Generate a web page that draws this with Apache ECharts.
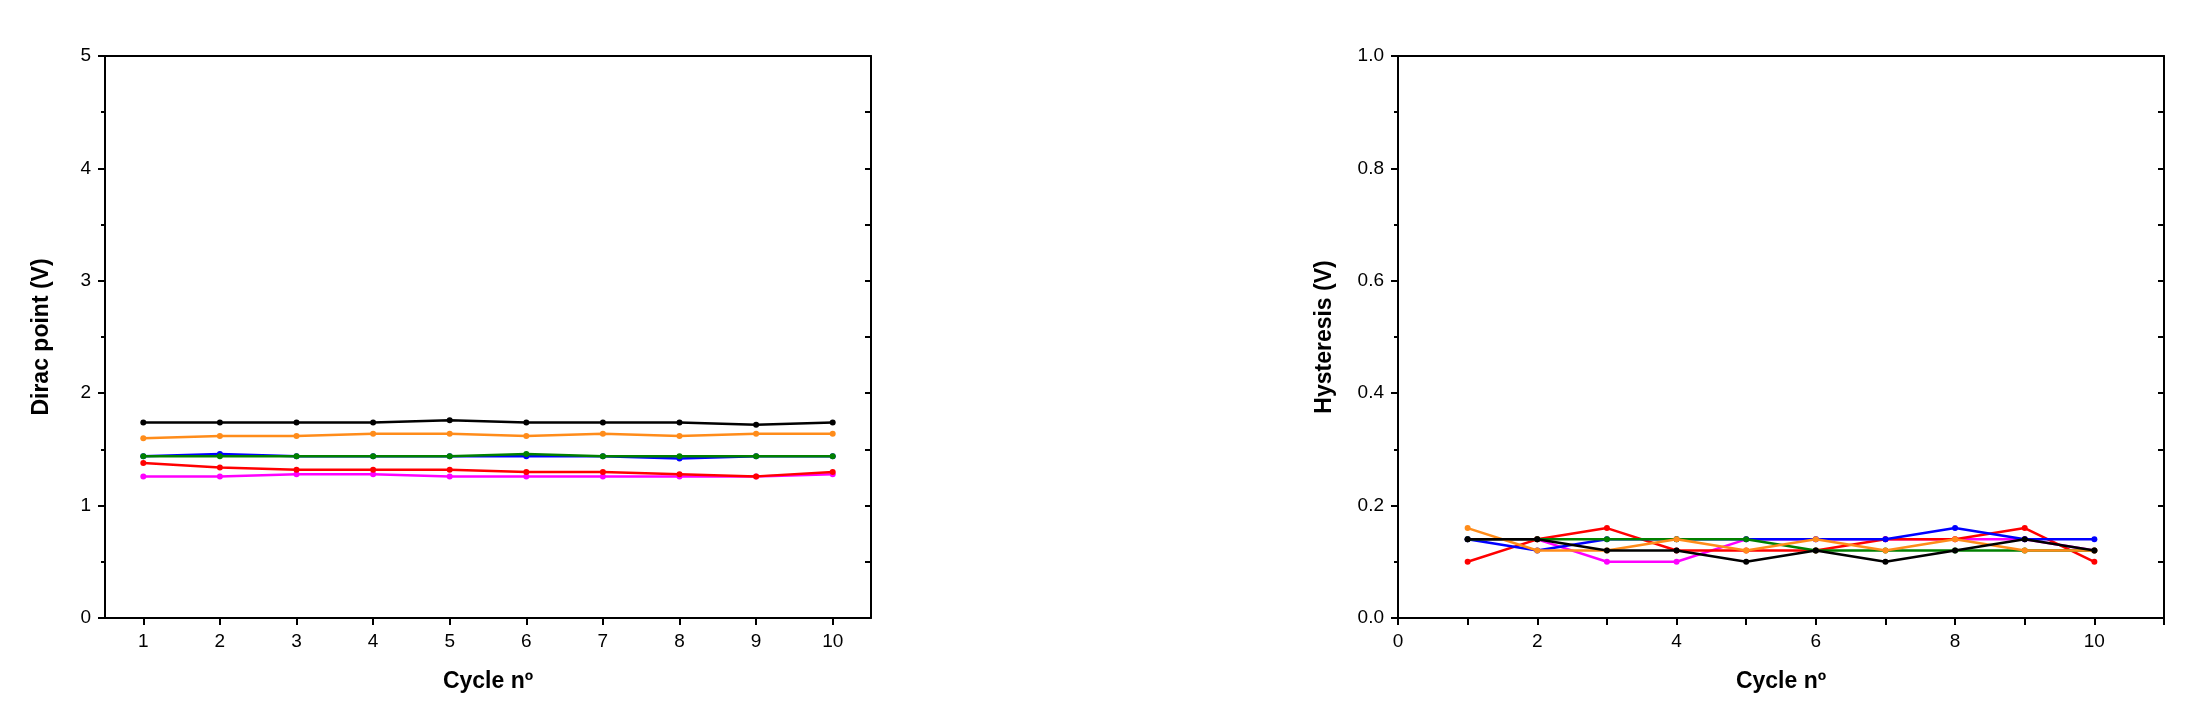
<!DOCTYPE html>
<html>
<head>
<meta charset="utf-8">
<script src="https://cdn.jsdelivr.net/npm/echarts@6/dist/echarts.min.js"></script>
<style>body{margin:0;background:#fff}#chart{width:2192px;height:702px}</style>
</head>
<body>
<div id="chart"></div>
<script>
const cycles = [1, 2, 3, 4, 5, 6, 7, 8, 9, 10];
const colors = ['#000000', '#ff8c1a', '#0000ff', '#008000', '#ff0000', '#ff00ff'];

const diracBlack = [1.74, 1.74, 1.74, 1.74, 1.76, 1.74, 1.74, 1.74, 1.72, 1.74];
const diracOrange = [1.60, 1.62, 1.62, 1.64, 1.64, 1.62, 1.64, 1.62, 1.64, 1.64];
const diracBlue = [1.44, 1.46, 1.44, 1.44, 1.44, 1.44, 1.44, 1.42, 1.44, 1.44];
const diracGreen = [1.44, 1.44, 1.44, 1.44, 1.44, 1.46, 1.44, 1.44, 1.44, 1.44];
const diracRed = [1.38, 1.34, 1.32, 1.32, 1.32, 1.30, 1.30, 1.28, 1.26, 1.30];
const diracMagenta = [1.26, 1.26, 1.28, 1.28, 1.26, 1.26, 1.26, 1.26, 1.26, 1.28];

const hystBlack = [0.14, 0.14, 0.12, 0.12, 0.10, 0.12, 0.10, 0.12, 0.14, 0.12];
const hystOrange = [0.16, 0.12, 0.12, 0.14, 0.12, 0.14, 0.12, 0.14, 0.12, 0.12];
const hystBlue = [0.14, 0.12, 0.14, 0.14, 0.14, 0.14, 0.14, 0.16, 0.14, 0.14];
const hystGreen = [0.14, 0.14, 0.14, 0.14, 0.14, 0.12, 0.12, 0.12, 0.12, 0.12];
const hystRed = [0.10, 0.14, 0.16, 0.12, 0.12, 0.12, 0.14, 0.14, 0.16, 0.10];
const hystMagenta = [0.14, 0.14, 0.10, 0.10, 0.14, 0.14, 0.14, 0.14, 0.14, 0.12];

const dirac = [diracBlack, diracOrange, diracBlue, diracGreen, diracRed, diracMagenta];
const hyst = [hystBlack, hystOrange, hystBlue, hystGreen, hystRed, hystMagenta];

const font = 'Liberation Sans, Arial, sans-serif';
const line = { onZero: false, lineStyle: { color: '#000', width: 2 } };
const tickStyle = { color: '#000', width: 2 };
const lbl = { color: '#000', fontSize: 19, fontFamily: font };
const nameStyle = { color: '#000', fontSize: 23, fontWeight: 'bold', fontFamily: font };
const zOrder = [6, 5, 3, 4, 2, 1];

function mk(vals, xi) {
  return vals.map((v, i) => ({
    type: 'line', xAxisIndex: xi, yAxisIndex: xi,
    data: cycles.map((c, k) => [c, v[k]]),
    symbol: 'circle', symbolSize: 6,
    lineStyle: { width: 2.5, color: colors[i] }, itemStyle: { color: colors[i] },
    z: zOrder[i]
  }));
}
function frameX(gi, min, max) {
  return { type: 'value', gridIndex: gi, position: 'top', min, max,
    axisLine: line, axisLabel: { show: false }, splitLine: { show: false }, axisTick: { show: false } };
}

const chart = echarts.init(document.getElementById('chart'));
chart.setOption({
  animation: false,
  grid: [
    { left: 105, right: 1321, top: 56, bottom: 84 },
    { left: 1398, right: 28, top: 56, bottom: 84 }
  ],
  xAxis: [
    { type: 'value', gridIndex: 0, min: 0.5, max: 10.5, name: 'Cycle nº', nameLocation: 'middle', nameGap: 52, nameTextStyle: nameStyle,
      axisLine: line, splitLine: { show: false }, axisLabel: Object.assign({ customValues: cycles, margin: 14 }, lbl),
      axisTick: { customValues: cycles, length: 7, lineStyle: tickStyle } },
    { type: 'value', gridIndex: 1, min: 0, max: 11, interval: 1, name: 'Cycle nº', nameLocation: 'middle', nameGap: 52, nameTextStyle: nameStyle,
      axisLine: line, splitLine: { show: false },
      axisLabel: Object.assign({ margin: 14, formatter: v => (v % 2 === 0 && v <= 10) ? String(v) : '' }, lbl),
      axisTick: { length: 7, lineStyle: tickStyle } },
    frameX(0, 0.5, 10.5),
    frameX(1, 0, 11)
  ],
  yAxis: [
    { type: 'value', gridIndex: 0, min: 0, max: 5, interval: 1, name: 'Dirac point (V)', nameLocation: 'middle', nameGap: 52, nameTextStyle: nameStyle,
      axisLine: line, splitLine: { show: false }, axisLabel: Object.assign({ margin: 14 }, lbl),
      axisTick: { length: 7, lineStyle: tickStyle },
      minorTick: { show: true, splitNumber: 2, length: 4, lineStyle: tickStyle } },
    { type: 'value', gridIndex: 1, min: 0, max: 1, interval: 0.2, name: 'Hysteresis (V)', nameLocation: 'middle', nameGap: 62, nameTextStyle: nameStyle,
      axisLine: line, splitLine: { show: false }, axisLabel: Object.assign({ margin: 14, formatter: v => v.toFixed(1) }, lbl),
      axisTick: { length: 7, lineStyle: tickStyle },
      minorTick: { show: true, splitNumber: 2, length: 4, lineStyle: tickStyle } },
    { type: 'value', gridIndex: 0, position: 'right', min: 0, max: 5, interval: 0.5, axisLine: line, axisLabel: { show: false },
      splitLine: { show: false }, axisTick: { inside: true, length: 6, lineStyle: tickStyle } },
    { type: 'value', gridIndex: 1, position: 'right', min: 0, max: 1, interval: 0.1, axisLine: line, axisLabel: { show: false },
      splitLine: { show: false }, axisTick: { inside: true, length: 6, lineStyle: tickStyle } }
  ],
  series: mk(dirac, 0).concat(mk(hyst, 1))
});
</script>
</body>
</html>
